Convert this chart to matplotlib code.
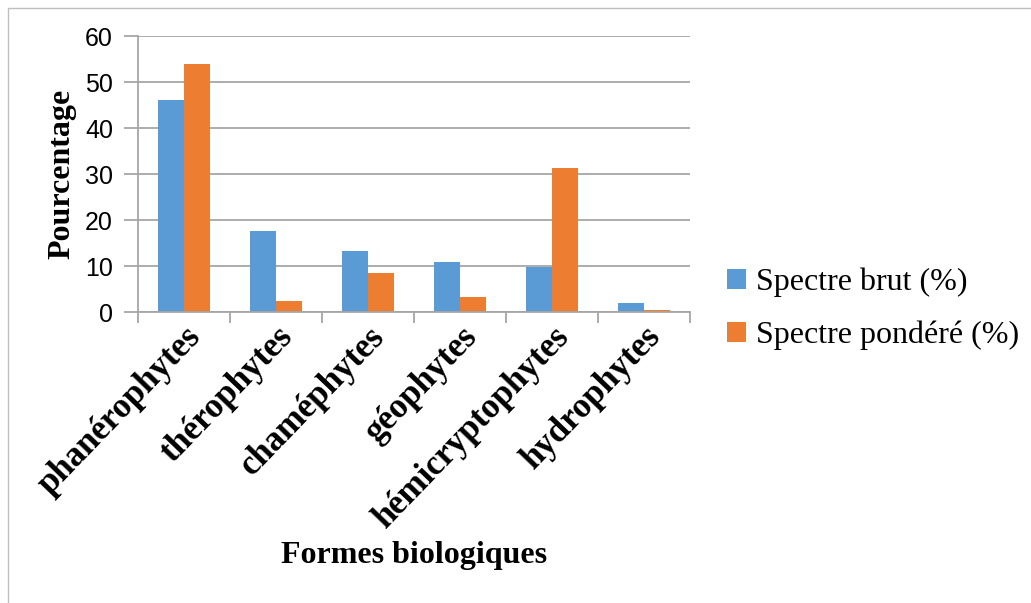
import matplotlib.pyplot as plt
import numpy as np
from matplotlib.patches import Rectangle

formes = ['phanérophytes', 'thérophytes', 'chaméphytes', 'géophytes',
          'hémicryptophytes', 'hydrophytes']
spectre_brut = [46.1, 17.7, 13.3, 10.8, 9.7, 2.0]
spectre_pondere = [54.0, 2.3, 8.5, 3.2, 31.2, 0.4]

blue = '#5B9BD5'
orange = '#ED7D31'
grey = '#A6A6A6'

fig = plt.figure(figsize=(10.31, 6.03), dpi=100)
ax = fig.add_axes([138 / 1031, 1 - 312 / 603, 552 / 1031, 276 / 603])

x = np.arange(len(formes))
w = 0.28
ax.bar(x - w / 2, spectre_brut, w, color=blue, label='Spectre brut (%)')
ax.bar(x + w / 2, spectre_pondere, w, color=orange, label='Spectre pondéré (%)')

ax.set_xlim(-0.5, len(formes) - 0.5)
ax.set_ylim(0, 60)
ax.set_yticks(range(0, 61, 10))
ax.yaxis.grid(True, color=grey, linewidth=1.3)
ax.set_axisbelow(True)

for s in ['top', 'right']:
    ax.spines[s].set_visible(False)
for s in ['left', 'bottom']:
    ax.spines[s].set_color(grey)
    ax.spines[s].set_linewidth(1.3)

ax.set_xticks(x)
ax.set_xticklabels(formes, rotation=46, ha='right', rotation_mode='anchor',
                   fontfamily='Liberation Serif', fontweight='bold', fontsize=25)
ax.tick_params(axis='x', which='major', length=0, pad=6)
ax.set_xticks(np.arange(-0.5, len(formes)), minor=True)
ax.tick_params(axis='x', which='minor', length=8, color=grey, width=1.3)
ax.tick_params(axis='y', length=10, color=grey, width=1.3, labelsize=18, pad=8)
for lab in ax.get_yticklabels():
    lab.set_fontfamily('Liberation Sans')

ax.set_ylabel('Pourcentage', fontfamily='Liberation Serif', fontweight='bold',
              fontsize=23, labelpad=6)
fig.text(414 / 1031, 1 - 556 / 603, 'Formes biologiques', ha='center', va='center',
         fontfamily='Liberation Serif', fontweight='bold', fontsize=23)

ax.legend(loc='center left', bbox_to_anchor=(698 / 1031, 1 - 309 / 603),
          bbox_transform=fig.transFigure, frameon=False,
          prop={'family': 'Liberation Serif', 'size': 23},
          handlelength=0.6, handleheight=0.6, handletextpad=0.3, labelspacing=0.75)

fig.patches.append(Rectangle((8 / 1031, -0.1), 1.2, 1.1 - 8 / 603, transform=fig.transFigure,
                             fill=False, edgecolor='#BFBFBF', linewidth=1))

fig.savefig('out.png', dpi=100)
